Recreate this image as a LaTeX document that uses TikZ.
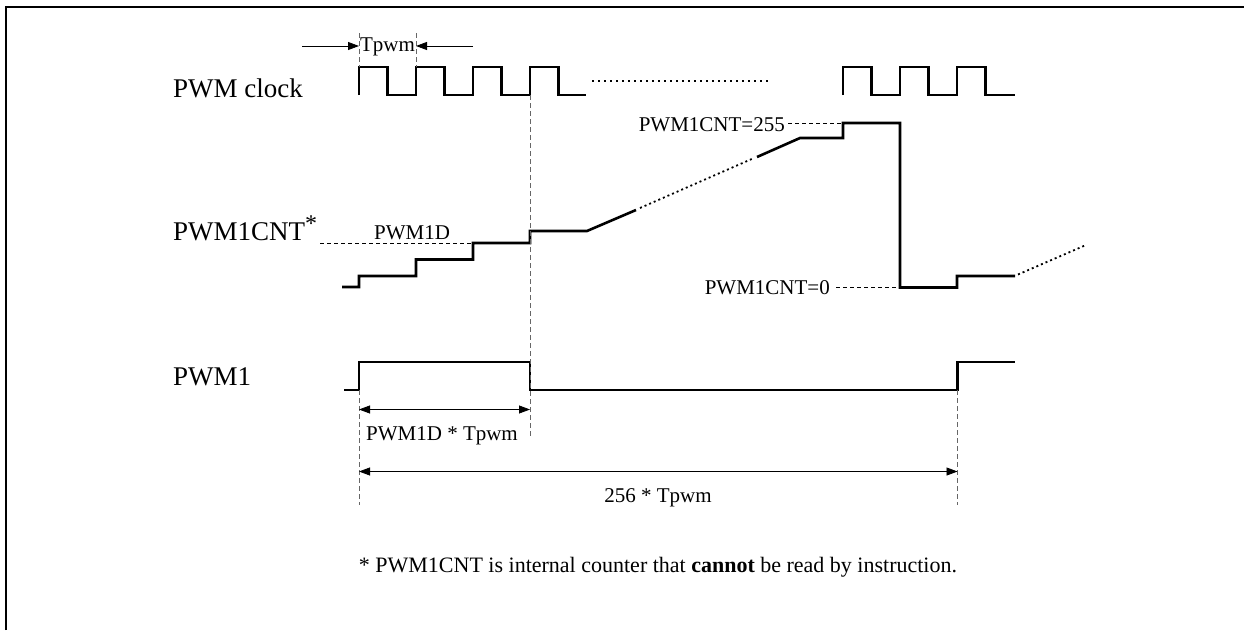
\documentclass[tikz,border=0pt]{standalone}
\usepackage{fontspec}
\setmainfont{Liberation Serif}
\usetikzlibrary{arrows.meta}
\begin{document}
\begin{tikzpicture}[x=1pt,y=-1pt,
  wave/.style={line width=2.6pt, line join=miter},
  dimline/.style={line width=0.8pt, {Triangle[length=11pt,width=8pt]}-{Triangle[length=11pt,width=8pt]}},
  onearrow/.style={line width=0.8pt, -{Triangle[length=11pt,width=8pt]}},
  guide/.style={line width=0.9pt, dash pattern=on 5pt off 3pt, black!60},
  refline/.style={line width=0.8pt, dash pattern=on 4pt off 3pt},
  dots/.style={line width=1.8pt, dash pattern=on 2pt off 3pt},
  big/.style={font=\fontsize{27}{32}\selectfont, inner sep=0pt},
  small/.style={font=\fontsize{21}{25}\selectfont, inner sep=0pt}]
\useasboundingbox (0,0) rectangle (1244,630);
\draw[line width=2pt] (6,630) -- (6,7) -- (1244,7);

% labels
\node[big, anchor=base west] (lclk) at (173,97) {PWM clock};
\node[big, anchor=base west] (lcnt) at (173,240) {PWM1CNT\raisebox{9pt}{\fontsize{24}{24}\selectfont *}};
\node[big, anchor=base west] (lpwm) at (173,385) {PWM1};

% clock
\draw[wave] (359,95) -- (359,67) -- (387.5,67) -- (387.5,95) -- (416,95) -- (416,67) -- (444.5,67) -- (444.5,95) -- (473,95) -- (473,67) -- (501.5,67) -- (501.5,95) -- (530,95) -- (530,67) -- (558.5,67) -- (558.5,95) -- (586,95);
\draw[line width=1.5pt, dash pattern=on 2pt off 4pt] (592,81) -- (768,81);
\draw[wave] (843,95) -- (843,67) -- (871.5,67) -- (871.5,95) -- (900,95) -- (900,67) -- (928.5,67) -- (928.5,95) -- (957,95) -- (957,67) -- (985.5,67) -- (985.5,95) -- (1015,95);

% Tpwm
\coordinate (t1top) at (359,33);
\coordinate (t1bot) at (359,67);
\coordinate (t2top) at (416,33);
\coordinate (t2bot) at (416,67);
\draw[guide] (t1top) -- (t1bot);
\draw[guide] (t2top) -- (t2bot);
\coordinate (ta) at (302,46);
\coordinate (tb) at (359,46);
\coordinate (tc) at (473,46);
\coordinate (td) at (416,46);
\draw[onearrow] (ta) -- (tb);
\draw[onearrow] (tc) -- (td);
\node[small, anchor=base] (tpwm) at (387.5,51) {Tpwm};

% counter
\draw[wave] (342,287) -- (359,287) -- (359,276) -- (416,276) -- (416,259.5) -- (473,259.5) -- (473,243) -- (530,243) -- (530,231) -- (587,231) -- (636,210);
\draw[dots] (640,208) -- (754,158);
\draw[wave] (757,157) -- (800,138) -- (843,138) -- (843,123) -- (900,123) -- (900,287.5) -- (957,287.5) -- (957,276) -- (1015,276);
\draw[dots] (1018,274.5) -- (1086,245);

\draw[refline] (320,243) -- (473,243);
\node[small, anchor=base] (pwm1d) at (412,239) {PWM1D};
\node[small, anchor=base east] (c255) at (785,131) {PWM1CNT=255};
\draw[refline] (c255.east |- 0,123) ++(3,0) -- (843,123);
\node[small, anchor=base east] (c0) at (830,294.5) {PWM1CNT=0};
\draw[refline] (c0.east |- 0,287.5) ++(6,0) -- (900,287.5);

% PWM1
\draw[wave] (344,390) -- (359,390) -- (359,362) -- (530,362) -- (530,390) -- (957.5,390) -- (957.5,362) -- (1015,362);

% guides
\draw[guide] (530,95) -- (530,438);
\draw[guide] (359,390) -- (359,505);
\draw[guide] (957.5,390) -- (957.5,505);

% dimensions
\coordinate (d1a) at (359,409.5);
\coordinate (d1b) at (530,409.5);
\draw[dimline] (d1a) -- (d1b);
\node[small, anchor=base] (d1t) at (442,440) {PWM1D * Tpwm};
\coordinate (d2a) at (359,471.5);
\coordinate (d2b) at (957.5,471.5);
\draw[dimline] (d2a) -- (d2b);
\node[small, anchor=base] (d2t) at (658,502) {256 * Tpwm};

\node[font=\fontsize{22}{26}\selectfont, inner sep=0pt, anchor=base] (note) at (658,572) {* PWM1CNT is internal counter that \textbf{cannot} be read by instruction.};
\end{tikzpicture}
\end{document}
